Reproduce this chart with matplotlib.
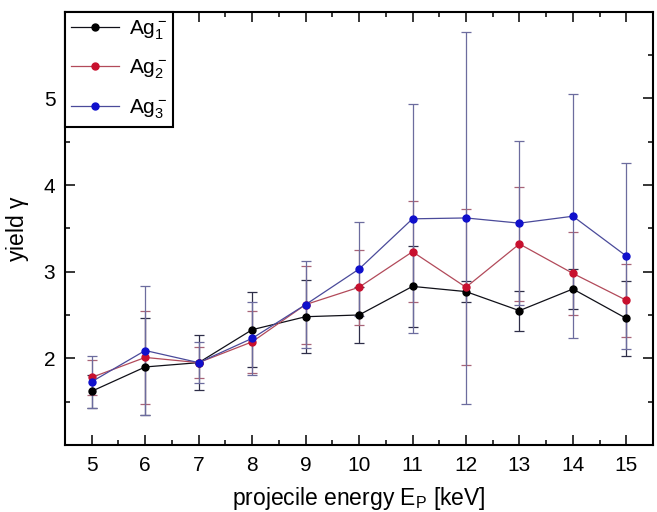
import numpy as np
import matplotlib

matplotlib.use("Agg")
import matplotlib.pyplot as plt

plt.rcParams["font.family"] = ["Liberation Sans", "DejaVu Sans"]
plt.rcParams["mathtext.default"] = "regular"

# ── Yield vs. projectile energy for Ag cluster anions ─────────────
energy = [5, 6, 7, 8, 9, 10, 11, 12, 13, 14, 15]

yield_ag1 = [1.62, 1.90, 1.95, 2.33, 2.48, 2.50, 2.83, 2.77, 2.55, 2.80, 2.46]
err_ag1 = [0.19, 0.56, 0.32, 0.43, 0.42, 0.32, 0.47, 0.12, 0.23, 0.23, 0.43]

yield_ag2 = [1.78, 2.01, 1.95, 2.19, 2.62, 2.82, 3.23, 2.82, 3.32, 2.98, 2.67]
err_ag2 = [0.20, 0.54, 0.18, 0.36, 0.45, 0.43, 0.58, 0.90, 0.66, 0.48, 0.42]

yield_ag3 = [1.73, 2.09, 1.95, 2.23, 2.62, 3.03, 3.61, 3.62, 3.56, 3.64, 3.18]
err_ag3 = [0.30, 0.75, 0.24, 0.42, 0.50, 0.54, 1.32, 2.15, 0.95, 1.41, 1.07]

labels = [r"Ag$_1^-$", r"Ag$_2^-$", r"Ag$_3^-$"]

series = [
    (yield_ag1, err_ag1, "#000000", "#101018", "#2e2e48"),
    (yield_ag2, err_ag2, "#c8102e", "#b24a5a", "#a86478"),
    (yield_ag3, err_ag3, "#1010cc", "#4a4a9a", "#6c6c9e"),
]

fig = plt.figure(figsize=(6.57, 5.12), dpi=100)
ax = fig.add_axes([0.099, 0.131, 0.895, 0.846])

for (vals, errs, mcol, lcol, ecol), lab in zip(series, labels):
    ax.errorbar(energy, vals, yerr=errs, fmt="none", ecolor=ecol,
                elinewidth=0.9, capsize=3.3, capthick=0.9, zorder=2)
    ax.plot(energy, vals, color=lcol, lw=0.9, marker="o", ms=5,
            mfc=mcol, mec=mcol, label=lab, zorder=3)

ax.set_xlim(4.5, 15.5)
ax.set_ylim(1, 6)
ax.set_xticks(np.arange(5, 16, 1))
ax.set_xticks(np.arange(4.5, 15.6, 0.5), minor=True)
ax.set_yticks([2, 3, 4, 5])
ax.set_yticks(np.arange(1.5, 6.0, 0.5), minor=True)

ax.tick_params(which="both", direction="in", top=True, right=True, width=1.1)
ax.tick_params(which="major", length=7, labelsize=15)
ax.tick_params(which="minor", length=3.6)
ax.tick_params(axis="x", which="major", pad=8)
ax.tick_params(axis="y", which="major", pad=7)

for sp in ax.spines.values():
    sp.set_linewidth(1.5)

ax.set_xlabel(r"projecile energy E$_P$ [keV]", fontsize=16.5, labelpad=7)
ax.set_ylabel(r"yield $\gamma$", fontsize=16.5, labelpad=9)

leg = ax.legend(loc="upper left", borderaxespad=0, fontsize=15,
                fancybox=False, framealpha=1, edgecolor="black",
                handlelength=2.3, labelspacing=0.78, borderpad=0.3,
                handletextpad=0.45)
leg.get_frame().set_linewidth(1.5)

fig.savefig("out.png", dpi=100)
